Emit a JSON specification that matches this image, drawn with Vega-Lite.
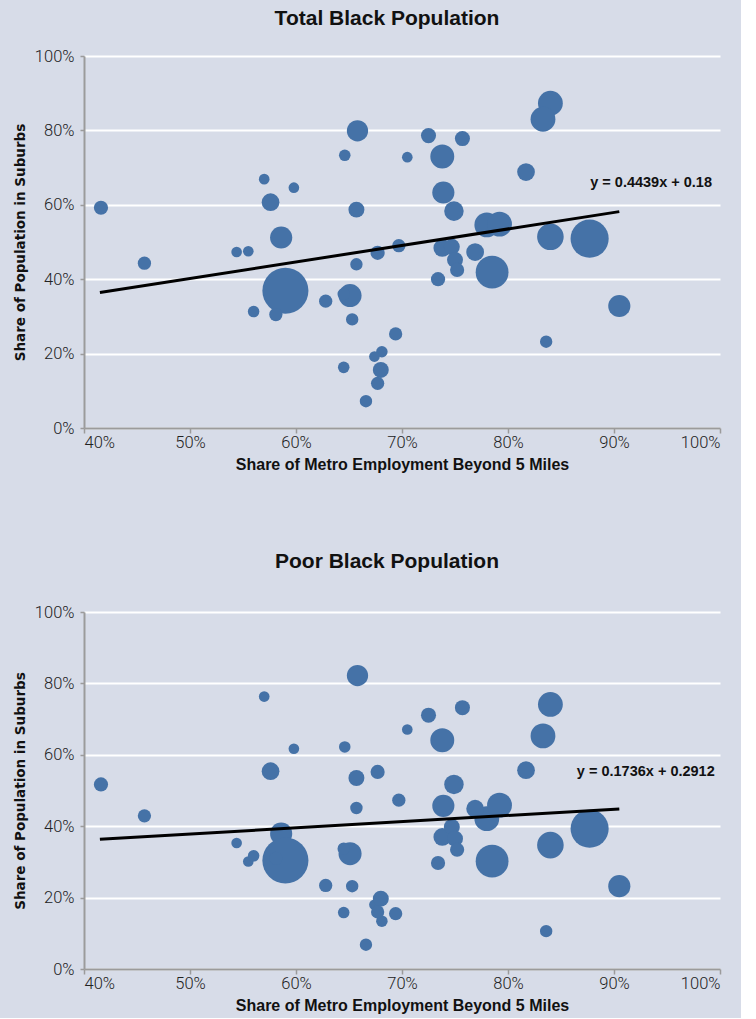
{
  "$schema": "https://vega.github.io/schema/vega-lite/v6.json",
  "background": "#d7dce8",
  "padding": {"left": 13, "top": 8, "right": 20, "bottom": 4},
  "spacing": 78,
  "datasets": {
    "metros": [
      {"employmentBeyond5mi": 0.416, "totalInSuburbs": 0.592, "poorInSuburbs": 0.517, "blackPopK": 307},
      {"employmentBeyond5mi": 0.457, "totalInSuburbs": 0.443, "poorInSuburbs": 0.429, "blackPopK": 270},
      {"employmentBeyond5mi": 0.544, "totalInSuburbs": 0.473, "poorInSuburbs": 0.353, "blackPopK": 173},
      {"employmentBeyond5mi": 0.555, "totalInSuburbs": 0.475, "poorInSuburbs": 0.301, "blackPopK": 173},
      {"employmentBeyond5mi": 0.570, "totalInSuburbs": 0.669, "poorInSuburbs": 0.763, "blackPopK": 173},
      {"employmentBeyond5mi": 0.598, "totalInSuburbs": 0.646, "poorInSuburbs": 0.617, "blackPopK": 173},
      {"employmentBeyond5mi": 0.576, "totalInSuburbs": 0.607, "poorInSuburbs": 0.554, "blackPopK": 480},
      {"employmentBeyond5mi": 0.586, "totalInSuburbs": 0.512, "poorInSuburbs": 0.379, "blackPopK": 750},
      {"employmentBeyond5mi": 0.590, "totalInSuburbs": 0.369, "poorInSuburbs": 0.304, "blackPopK": 3245},
      {"employmentBeyond5mi": 0.560, "totalInSuburbs": 0.313, "poorInSuburbs": 0.317, "blackPopK": 203},
      {"employmentBeyond5mi": 0.581, "totalInSuburbs": 0.305, "poorInSuburbs": 0.310, "blackPopK": 270},
      {"employmentBeyond5mi": 0.658, "totalInSuburbs": 0.799, "poorInSuburbs": 0.822, "blackPopK": 691},
      {"employmentBeyond5mi": 0.646, "totalInSuburbs": 0.733, "poorInSuburbs": 0.622, "blackPopK": 203},
      {"employmentBeyond5mi": 0.705, "totalInSuburbs": 0.728, "poorInSuburbs": 0.671, "blackPopK": 173},
      {"employmentBeyond5mi": 0.725, "totalInSuburbs": 0.786, "poorInSuburbs": 0.711, "blackPopK": 347},
      {"employmentBeyond5mi": 0.757, "totalInSuburbs": 0.778, "poorInSuburbs": 0.732, "blackPopK": 347},
      {"employmentBeyond5mi": 0.738, "totalInSuburbs": 0.730, "poorInSuburbs": 0.641, "blackPopK": 875},
      {"employmentBeyond5mi": 0.657, "totalInSuburbs": 0.587, "poorInSuburbs": 0.535, "blackPopK": 389},
      {"employmentBeyond5mi": 0.739, "totalInSuburbs": 0.633, "poorInSuburbs": 0.457, "blackPopK": 750},
      {"employmentBeyond5mi": 0.749, "totalInSuburbs": 0.583, "poorInSuburbs": 0.517, "blackPopK": 581},
      {"employmentBeyond5mi": 0.780, "totalInSuburbs": 0.546, "poorInSuburbs": 0.421, "blackPopK": 941},
      {"employmentBeyond5mi": 0.792, "totalInSuburbs": 0.548, "poorInSuburbs": 0.459, "blackPopK": 941},
      {"employmentBeyond5mi": 0.677, "totalInSuburbs": 0.471, "poorInSuburbs": 0.552, "blackPopK": 307},
      {"employmentBeyond5mi": 0.697, "totalInSuburbs": 0.490, "poorInSuburbs": 0.473, "blackPopK": 270},
      {"employmentBeyond5mi": 0.657, "totalInSuburbs": 0.440, "poorInSuburbs": 0.451, "blackPopK": 235},
      {"employmentBeyond5mi": 0.738, "totalInSuburbs": 0.484, "poorInSuburbs": 0.370, "blackPopK": 480},
      {"employmentBeyond5mi": 0.747, "totalInSuburbs": 0.487, "poorInSuburbs": 0.398, "blackPopK": 389},
      {"employmentBeyond5mi": 0.750, "totalInSuburbs": 0.452, "poorInSuburbs": 0.365, "blackPopK": 389},
      {"employmentBeyond5mi": 0.752, "totalInSuburbs": 0.425, "poorInSuburbs": 0.334, "blackPopK": 307},
      {"employmentBeyond5mi": 0.769, "totalInSuburbs": 0.473, "poorInSuburbs": 0.449, "blackPopK": 480},
      {"employmentBeyond5mi": 0.785, "totalInSuburbs": 0.419, "poorInSuburbs": 0.302, "blackPopK": 1643},
      {"employmentBeyond5mi": 0.734, "totalInSuburbs": 0.400, "poorInSuburbs": 0.297, "blackPopK": 307},
      {"employmentBeyond5mi": 0.628, "totalInSuburbs": 0.341, "poorInSuburbs": 0.234, "blackPopK": 270},
      {"employmentBeyond5mi": 0.651, "totalInSuburbs": 0.356, "poorInSuburbs": 0.323, "blackPopK": 811},
      {"employmentBeyond5mi": 0.645, "totalInSuburbs": 0.360, "poorInSuburbs": 0.337, "blackPopK": 235},
      {"employmentBeyond5mi": 0.653, "totalInSuburbs": 0.292, "poorInSuburbs": 0.232, "blackPopK": 235},
      {"employmentBeyond5mi": 0.694, "totalInSuburbs": 0.253, "poorInSuburbs": 0.155, "blackPopK": 270},
      {"employmentBeyond5mi": 0.681, "totalInSuburbs": 0.205, "poorInSuburbs": 0.134, "blackPopK": 203},
      {"employmentBeyond5mi": 0.674, "totalInSuburbs": 0.192, "poorInSuburbs": 0.180, "blackPopK": 173},
      {"employmentBeyond5mi": 0.680, "totalInSuburbs": 0.156, "poorInSuburbs": 0.197, "blackPopK": 389},
      {"employmentBeyond5mi": 0.677, "totalInSuburbs": 0.120, "poorInSuburbs": 0.160, "blackPopK": 270},
      {"employmentBeyond5mi": 0.645, "totalInSuburbs": 0.163, "poorInSuburbs": 0.158, "blackPopK": 203},
      {"employmentBeyond5mi": 0.666, "totalInSuburbs": 0.072, "poorInSuburbs": 0.068, "blackPopK": 235},
      {"employmentBeyond5mi": 0.840, "totalInSuburbs": 0.873, "poorInSuburbs": 0.741, "blackPopK": 941},
      {"employmentBeyond5mi": 0.833, "totalInSuburbs": 0.830, "poorInSuburbs": 0.653, "blackPopK": 941},
      {"employmentBeyond5mi": 0.817, "totalInSuburbs": 0.688, "poorInSuburbs": 0.557, "blackPopK": 480},
      {"employmentBeyond5mi": 0.840, "totalInSuburbs": 0.514, "poorInSuburbs": 0.347, "blackPopK": 1080},
      {"employmentBeyond5mi": 0.877, "totalInSuburbs": 0.509, "poorInSuburbs": 0.393, "blackPopK": 2219},
      {"employmentBeyond5mi": 0.905, "totalInSuburbs": 0.328, "poorInSuburbs": 0.232, "blackPopK": 750},
      {"employmentBeyond5mi": 0.836, "totalInSuburbs": 0.232, "poorInSuburbs": 0.106, "blackPopK": 235}
    ],
    "trend": [
      {"panel": "total", "employmentBeyond5mi": 0.415, "share": 0.3642},
      {"panel": "total", "employmentBeyond5mi": 0.905, "share": 0.5817},
      {"panel": "poor", "employmentBeyond5mi": 0.415, "share": 0.3632},
      {"panel": "poor", "employmentBeyond5mi": 0.905, "share": 0.4483}
    ],
    "equations": [
      {"panel": "total", "employmentBeyond5mi": 0.935, "share": 0.659, "text": "y = 0.4439x + 0.18"},
      {"panel": "poor", "employmentBeyond5mi": 0.930, "share": 0.551, "text": "y = 0.1736x + 0.2912"}
    ]
  },
  "vconcat": [
    {
      "title": {"text": "Total Black Population", "offset": 19},
      "width": 636,
      "height": 372,
      "layer": [
        {
          "data": {"name": "metros"},
          "mark": {"type": "circle", "color": "#4572a7", "opacity": 1},
          "encoding": {
            "x": {"field": "employmentBeyond5mi", "type": "quantitative", "scale": {"domain": [0.4, 1]}, "title": "Share of Metro Employment Beyond 5 Miles", "axis": {"values": [0.4, 0.5, 0.6, 0.7, 0.8, 0.9, 1.0]}},
            "y": {"field": "totalInSuburbs", "type": "quantitative", "scale": {"domain": [0, 1]}, "title": "Share of Population in Suburbs", "axis": {"values": [0, 0.2, 0.4, 0.6, 0.8, 1.0]}},
            "size": {"field": "blackPopK", "type": "quantitative", "scale": {"domain": [0, 3300], "range": [0, 2160]}, "legend": null}
          }
        },
        {
          "data": {"name": "trend"},
          "transform": [{"filter": "datum.panel === 'total'"}],
          "mark": {"type": "line", "color": "#000000", "strokeWidth": 3},
          "encoding": {
            "x": {"field": "employmentBeyond5mi", "type": "quantitative"},
            "y": {"field": "share", "type": "quantitative"}
          }
        },
        {
          "data": {"name": "equations"},
          "transform": [{"filter": "datum.panel === 'total'"}],
          "mark": {"type": "text", "font": "Liberation Sans", "fontWeight": "bold", "fontSize": 14.5, "color": "#111111"},
          "encoding": {
            "x": {"field": "employmentBeyond5mi", "type": "quantitative"},
            "y": {"field": "share", "type": "quantitative"},
            "text": {"field": "text"}
          }
        }
      ]
    },
    {
      "title": {"text": "Poor Black Population", "offset": 32},
      "width": 636,
      "height": 357,
      "layer": [
        {
          "data": {"name": "metros"},
          "mark": {"type": "circle", "color": "#4572a7", "opacity": 1},
          "encoding": {
            "x": {"field": "employmentBeyond5mi", "type": "quantitative", "scale": {"domain": [0.4, 1]}, "title": "Share of Metro Employment Beyond 5 Miles", "axis": {"values": [0.4, 0.5, 0.6, 0.7, 0.8, 0.9, 1.0]}},
            "y": {"field": "poorInSuburbs", "type": "quantitative", "scale": {"domain": [0, 1]}, "title": "Share of Population in Suburbs", "axis": {"values": [0, 0.2, 0.4, 0.6, 0.8, 1.0]}},
            "size": {"field": "blackPopK", "type": "quantitative", "scale": {"domain": [0, 3300], "range": [0, 2160]}, "legend": null}
          }
        },
        {
          "data": {"name": "trend"},
          "transform": [{"filter": "datum.panel === 'poor'"}],
          "mark": {"type": "line", "color": "#000000", "strokeWidth": 3},
          "encoding": {
            "x": {"field": "employmentBeyond5mi", "type": "quantitative"},
            "y": {"field": "share", "type": "quantitative"}
          }
        },
        {
          "data": {"name": "equations"},
          "transform": [{"filter": "datum.panel === 'poor'"}],
          "mark": {"type": "text", "font": "Liberation Sans", "fontWeight": "bold", "fontSize": 14.5, "color": "#111111"},
          "encoding": {
            "x": {"field": "employmentBeyond5mi", "type": "quantitative"},
            "y": {"field": "share", "type": "quantitative"},
            "text": {"field": "text"}
          }
        }
      ]
    }
  ],
  "config": {
    "view": {"stroke": null},
    "title": {"font": "Liberation Sans", "fontSize": 21, "fontWeight": "bold", "color": "#111111", "anchor": "middle", "dx": -15},
    "axis": {
      "labelFont": "Roboto",
      "labelFontWeight": 300,
      "labelFontSize": 16.5,
      "labelColor": "#222222",
      "titleFont": "Liberation Sans",
      "titleFontWeight": "bold",
      "titleColor": "#111111",
      "domainColor": "#9b9b9b",
      "domainWidth": 2,
      "tickColor": "#9b9b9b",
      "tickWidth": 1.5,
      "format": ".0%"
    },
    "axisX": {
      "grid": false,
      "tickSize": 5,
      "labelPadding": 1,
      "titleFontSize": 16,
      "titlePadding": 6
    },
    "axisY": {
      "grid": true,
      "gridColor": "#ffffff",
      "gridWidth": 2,
      "tickSize": 4,
      "labelPadding": 6,
      "titleFont": "DejaVu Sans",
      "titleFontSize": 13.5,
      "titlePadding": 7
    }
  }
}
